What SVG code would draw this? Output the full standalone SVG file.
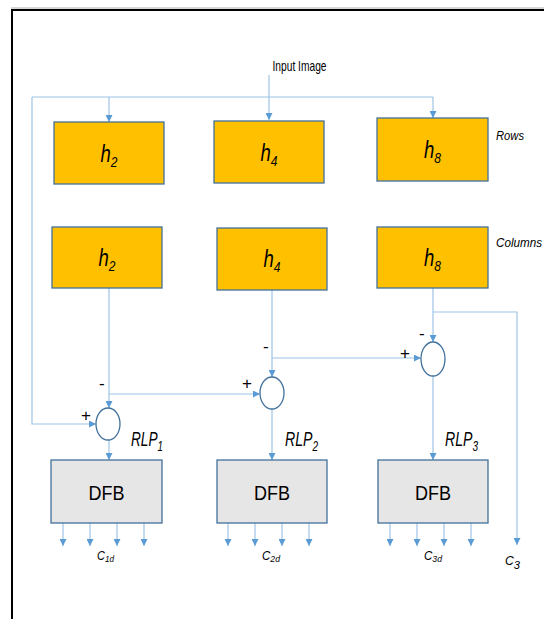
<svg xmlns="http://www.w3.org/2000/svg" width="544" height="619" viewBox="0 0 544 619">
  <defs>
    <marker id="arr" viewBox="0 0 8 8" refX="8" refY="4" markerWidth="7" markerHeight="7" markerUnits="userSpaceOnUse" orient="auto">
      <path d="M0,0 L8,4 L0,8 z" fill="#5B9BD5"/>
    </marker>
    <style>
      .wire { fill: none; stroke: #9DC3E6; stroke-width: 1.2; }
      .arrow { marker-end: url(#arr); }
      .filter { fill: #FFC000; stroke: #41719C; stroke-width: 1.3; }
      .dfb { fill: #E7E6E6; stroke: #41719C; stroke-width: 1.3; }
      .sum { fill: #FFFFFF; stroke: #41719C; stroke-width: 1.3; }
      .ital { font-family: "Liberation Sans Narrow", "Liberation Sans", Arial, sans-serif; font-style: italic; fill: #000; }
      .hlab { font-size: 23px; }
      .hsub { font-size: 15px; }
      .rlp { font-size: 21px; }
      .rsub { font-size: 15px; }
      .lab { font-family: "Liberation Sans", Arial, sans-serif; fill: #000; }
      .note { font-family: "Liberation Sans", Arial, sans-serif; font-style: italic; font-size: 12px; fill: #000; }
      .sign { font-family: "Liberation Sans", Arial, sans-serif; font-size: 17px; fill: #000; }
    </style>
  </defs>
  <rect width="544" height="619" fill="#FFFFFF"/>

  <!-- page frame (top and left edges) -->
  <line x1="11" y1="8" x2="544" y2="8" stroke="#B0B0B0" stroke-width="1"/>
  <line x1="11" y1="10" x2="544" y2="10" stroke="#000" stroke-width="2"/>
  <line x1="12" y1="9" x2="12" y2="619" stroke="#000" stroke-width="2"/>

  <text class="lab" x="272.5" y="71" font-size="15" textLength="54" lengthAdjust="spacingAndGlyphs">Input Image</text>
  <text class="note" x="496" y="140" textLength="28" lengthAdjust="spacingAndGlyphs">Rows</text>
  <text class="note" x="496" y="247" textLength="46" lengthAdjust="spacingAndGlyphs">Columns</text>

  <g id="connectors">
    <!-- input distribution -->
    <path class="wire arrow" d="M269,75 V120"/>
    <path class="wire" d="M32,97 H433"/>
    <path class="wire arrow" d="M109,97 V122"/>
    <path class="wire arrow" d="M433,97 V118"/>
    <!-- input bypass to first subtractor -->
    <path class="wire arrow" d="M32,97 V424 H96"/>
    <!-- column filter outputs to subtractors -->
    <path class="wire arrow" d="M109,288 V408"/>
    <path class="wire arrow" d="M109,394 H260"/>
    <path class="wire arrow" d="M272,290 V377"/>
    <path class="wire arrow" d="M272,358 H421"/>
    <path class="wire arrow" d="M433,288 V342"/>
    <path class="wire arrow" d="M433,312 H517 V545"/>
    <!-- subtractor outputs to DFB -->
    <path class="wire arrow" d="M109,440 V460"/>
    <path class="wire arrow" d="M272,409 V460"/>
    <path class="wire arrow" d="M433,376 V460"/>
    <!-- DFB outputs -->
    <path class="wire arrow" d="M63,523 V546"/>
    <path class="wire arrow" d="M90,523 V546"/>
    <path class="wire arrow" d="M117,523 V546"/>
    <path class="wire arrow" d="M144,523 V546"/>
    <path class="wire arrow" d="M228,523 V546"/>
    <path class="wire arrow" d="M255,523 V546"/>
    <path class="wire arrow" d="M282,523 V546"/>
    <path class="wire arrow" d="M309,523 V546"/>
    <path class="wire arrow" d="M390,523 V546"/>
    <path class="wire arrow" d="M417,523 V546"/>
    <path class="wire arrow" d="M444,523 V546"/>
    <path class="wire arrow" d="M471,523 V546"/>
  </g>

  <!-- row filters -->
  <g id="row-h2">
    <rect class="filter" x="54" y="122" width="110" height="62"/>
    <text class="ital hlab" x="100.5" y="162" textLength="17" lengthAdjust="spacingAndGlyphs">h<tspan class="hsub" dy="5">2</tspan></text>
  </g>
  <g id="row-h4">
    <rect class="filter" x="214" y="121" width="110" height="62"/>
    <text class="ital hlab" x="260.5" y="161" textLength="17" lengthAdjust="spacingAndGlyphs">h<tspan class="hsub" dy="5">4</tspan></text>
  </g>
  <g id="row-h8">
    <rect class="filter" x="377" y="118" width="111" height="63"/>
    <text class="ital hlab" x="424" y="158" textLength="17" lengthAdjust="spacingAndGlyphs">h<tspan class="hsub" dy="5">8</tspan></text>
  </g>

  <!-- column filters -->
  <g id="col-h2">
    <rect class="filter" x="52" y="227" width="110" height="61"/>
    <text class="ital hlab" x="98.5" y="266" textLength="17" lengthAdjust="spacingAndGlyphs">h<tspan class="hsub" dy="5">2</tspan></text>
  </g>
  <g id="col-h4">
    <rect class="filter" x="217" y="228" width="110" height="62"/>
    <text class="ital hlab" x="263.5" y="267" textLength="17" lengthAdjust="spacingAndGlyphs">h<tspan class="hsub" dy="5">4</tspan></text>
  </g>
  <g id="col-h8">
    <rect class="filter" x="377" y="227" width="111" height="61"/>
    <text class="ital hlab" x="424" y="266" textLength="17" lengthAdjust="spacingAndGlyphs">h<tspan class="hsub" dy="5">8</tspan></text>
  </g>

  <!-- subtractors -->
  <g id="sum1">
    <ellipse class="sum" cx="108" cy="424" rx="12" ry="16"/>
    <text class="sign" x="81" y="421">+</text>
    <text class="sign" x="99" y="389">-</text>
  </g>
  <g id="sum2">
    <ellipse class="sum" cx="272" cy="393" rx="12" ry="16"/>
    <text class="sign" x="242" y="389">+</text>
    <text class="sign" x="263" y="352">-</text>
  </g>
  <g id="sum3">
    <ellipse class="sum" cx="433" cy="359" rx="12" ry="17"/>
    <text class="sign" x="400" y="359">+</text>
    <text class="sign" x="419" y="339">-</text>
  </g>

  <!-- residual labels -->
  <text class="ital rlp" x="131" y="446" textLength="32" lengthAdjust="spacingAndGlyphs">RLP<tspan class="rsub" dy="5">1</tspan></text>
  <text class="ital rlp" x="285" y="446" textLength="33" lengthAdjust="spacingAndGlyphs">RLP<tspan class="rsub" dy="5">2</tspan></text>
  <text class="ital rlp" x="445" y="446" textLength="33" lengthAdjust="spacingAndGlyphs">RLP<tspan class="rsub" dy="5">3</tspan></text>

  <!-- directional filter banks -->
  <g id="dfb1">
    <rect class="dfb" x="51" y="460" width="111" height="63"/>
    <text class="lab" x="106.5" y="500" font-size="21" text-anchor="middle" textLength="36" lengthAdjust="spacingAndGlyphs">DFB</text>
  </g>
  <g id="dfb2">
    <rect class="dfb" x="217" y="460" width="110" height="63"/>
    <text class="lab" x="272" y="500" font-size="21" text-anchor="middle" textLength="36" lengthAdjust="spacingAndGlyphs">DFB</text>
  </g>
  <g id="dfb3">
    <rect class="dfb" x="378" y="460" width="110" height="63"/>
    <text class="lab" x="433" y="500" font-size="21" text-anchor="middle" textLength="36" lengthAdjust="spacingAndGlyphs">DFB</text>
  </g>

  <!-- output coefficient labels -->
  <text class="note" x="97" y="560" textLength="17" lengthAdjust="spacingAndGlyphs">C<tspan font-size="9" dy="2">1d</tspan></text>
  <text class="note" x="262" y="560" textLength="18" lengthAdjust="spacingAndGlyphs">C<tspan font-size="9" dy="2">2d</tspan></text>
  <text class="note" x="424" y="560" textLength="18" lengthAdjust="spacingAndGlyphs">C<tspan font-size="9" dy="2">3d</tspan></text>
  <text class="note" x="505" y="565" font-size="15" textLength="15" lengthAdjust="spacingAndGlyphs">C<tspan font-size="11" dy="4">3</tspan></text>
</svg>
